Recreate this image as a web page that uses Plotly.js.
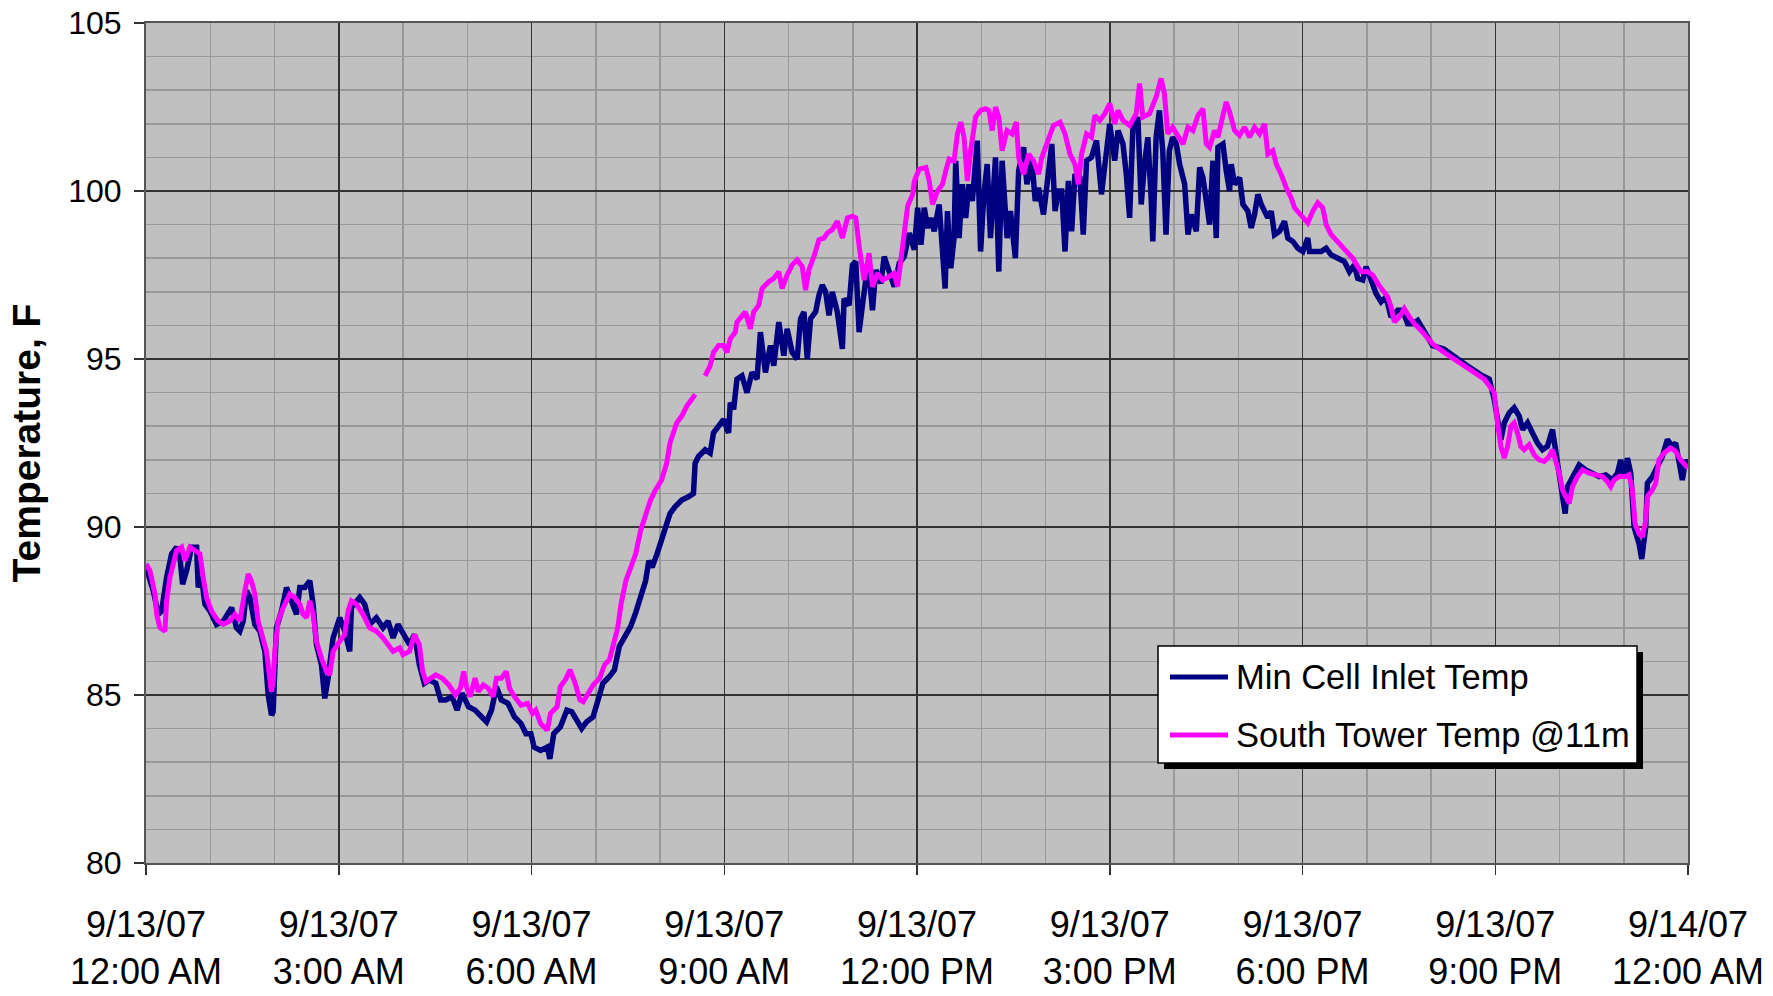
<!DOCTYPE html>
<html>
<head>
<meta charset="utf-8">
<script src="https://cdn.plot.ly/plotly-3.0.1.min.js"></script>
<style>html,body{margin:0;padding:0;background:#fff;}#chart{width:1773px;height:996px;}</style>
</head>
<body>
<div id="chart"></div>
<script>
// ---- data (hours after 9/13/07 12:00 AM) ----
const seriesNames = ['Min Cell Inlet Temp', 'South Tower Temp @11m'];
const seriesColors = ['#000080', '#FF00FF'];

const inletHours = [
0,0.114,0.192,0.244,0.321,0.399,0.477,0.528,0.57,0.632,0.71,0.788,0.813,0.865,0.917,0.995,1.098,1.202,1.332,1.409,
1.461,1.513,1.565,1.617,1.694,1.772,1.85,1.902,1.953,1.979,2.031,2.109,2.187,2.264,2.342,2.394,2.472,2.549,2.601,2.653,
2.731,2.782,2.834,2.912,3.016,3.093,3.171,3.197,3.326,3.404,3.482,3.585,3.689,3.767,3.845,3.922,
4.0,4.102,4.179,4.255,4.332,4.408,4.51,4.587,4.663,4.765,4.842,4.918,5.02,5.122,5.224,5.301,5.378,5.454,5.531,5.633,
5.735,5.837,5.913,5.99,6.041,6.143,6.245,6.286,6.347,6.449,6.551,6.628,6.704,6.781,6.857,6.959,7.036,7.112,7.214,7.291,
7.367,7.469,7.546,7.622,7.699,7.776,7.827,7.878,7.954,8.005,
8.156,8.234,8.339,8.443,8.521,8.547,8.599,8.703,8.781,8.833,8.911,8.99,9.068,9.094,9.146,9.198,9.276,9.354,9.432,9.51,
9.563,9.641,9.719,9.771,9.849,9.927,9.979,10.057,10.135,10.188,10.24,10.292,10.344,10.422,10.474,10.526,10.578,10.63,10.682,10.76,
10.839,10.865,10.943,10.995,11.047,11.099,11.151,11.203,11.255,11.307,11.359,11.438,11.49,11.568,11.646,11.724,11.802,11.88,11.958,
12.01,12.062,12.113,12.165,12.216,12.268,12.345,12.397,12.438,12.474,12.526,12.577,12.603,12.655,12.706,12.758,12.809,12.861,12.938,12.99,
13.041,13.093,13.144,13.222,13.273,13.325,13.402,13.454,13.531,13.582,13.66,13.711,13.789,13.84,13.892,13.969,14.046,14.098,14.149,14.201,
14.253,14.304,14.356,14.407,14.459,14.536,14.588,14.639,14.716,14.794,14.871,14.948,15.0,15.077,15.129,15.206,15.258,15.309,15.361,15.438,
15.49,15.541,15.593,15.644,15.67,15.722,15.773,15.825,15.876,15.928,15.979,
16.036,16.088,16.166,16.218,16.269,16.347,16.399,16.451,16.503,16.554,16.606,16.658,16.684,16.762,16.813,16.865,16.891,16.943,17.021,17.073,
17.15,17.202,17.254,17.306,17.358,17.409,17.461,17.513,17.565,17.642,17.72,17.772,17.85,17.927,18.005,18.083,18.109,18.187,18.29,18.368,
18.446,18.549,18.653,18.731,18.808,18.86,18.938,18.99,19.067,19.145,19.223,19.301,19.378,19.482,19.56,19.637,19.715,19.793,19.87,19.948,
20.026,20.2,20.4,20.6,20.8,
20.907,20.984,21.036,21.088,21.14,21.218,21.295,21.373,21.425,21.503,21.58,21.658,21.736,21.813,21.891,21.943,21.995,22.047,22.088,22.124,
22.202,22.306,22.409,22.513,22.617,22.72,22.824,22.902,22.953,23.005,23.057,23.109,23.161,23.238,23.28,23.342,23.368,23.446,23.523,23.601,
23.679,23.756,23.808,23.86,23.912,23.964,24.0
];
const inletTemp = [
88.8,88.1,87.4,87.5,88.5,89.2,89.4,89.1,88.3,88.7,89.4,89.4,88.2,88.5,87.7,87.5,87.1,87.2,87.6,87.0,
86.9,87.2,88.1,87.9,87.1,86.9,86.3,85.0,84.4,84.5,87.0,87.5,88.2,87.8,87.4,88.2,88.2,88.4,87.7,86.5,
85.9,84.9,85.5,86.7,87.3,86.9,86.3,87.6,87.9,87.7,87.1,87.3,87.0,87.2,86.7,87.1,
86.8,86.5,86.8,85.9,85.35,85.45,85.35,84.85,84.85,84.95,84.55,85.05,84.65,84.55,84.35,84.2,84.55,85.25,84.85,84.75,
84.35,84.15,83.85,83.85,83.45,83.35,83.45,83.1,83.85,84.05,84.55,84.5,84.25,84.0,84.2,84.35,84.85,85.35,85.55,85.75,
86.45,86.75,87.05,87.45,88.0,88.4,89.0,88.8,89.2,89.5,
90.4,90.6,90.8,90.9,91.0,91.9,92.1,92.3,92.2,92.8,93.0,93.2,92.8,93.7,93.5,94.4,94.5,94.0,94.6,94.4,
95.8,94.6,95.4,94.8,96.1,95.1,95.9,95.2,95.0,96.2,96.4,95.0,96.2,96.4,96.9,97.2,97.0,96.3,97.0,96.4,
95.3,96.8,96.6,97.8,97.9,95.8,96.6,97.35,97.55,96.45,97.65,97.25,98.05,97.55,97.15,97.85,98.05,98.75,98.25,
99.5,98.4,99.5,98.9,99.2,98.8,99.6,97.9,97.1,99.4,97.7,98.6,100.9,98.6,100.2,99.2,100.2,99.7,101.5,98.2,
99.9,100.8,98.6,101.0,97.6,100.9,98.6,99.4,98.0,100.6,101.3,100.2,100.9,99.7,100.1,99.3,100.7,101.4,99.4,100.0,
100.0,98.2,100.3,98.8,100.5,100.4,98.7,100.9,101.0,101.5,99.9,101.0,102.0,100.9,101.8,101.4,100.5,99.2,101.9,102.2,
99.6,100.8,101.6,99.8,98.5,101.6,102.4,101.2,98.7,101.2,101.6,
101.4,100.8,100.2,98.7,99.3,98.8,100.7,100.4,99.7,99.0,100.9,98.6,101.3,101.4,100.6,100.0,100.8,100.2,100.4,99.6,
99.4,98.9,99.3,99.9,99.6,99.4,99.2,99.4,98.7,98.8,99.1,98.6,98.5,98.3,98.2,98.6,98.2,98.2,98.2,98.3,
98.1,98.0,97.9,97.6,97.8,97.4,97.35,97.75,97.35,96.95,96.7,96.85,96.25,96.45,96.45,96.05,96.05,96.15,95.9,95.65,
95.4,95.3,95.0,94.75,94.5,
94.4,93.8,93.3,92.6,93.1,93.4,93.55,93.3,92.9,93.1,92.8,92.5,92.3,92.4,92.9,92.2,91.7,90.9,90.4,91.2,
91.5,91.85,91.7,91.6,91.5,91.55,91.4,91.6,92.0,91.5,92.05,91.6,90.0,89.5,89.05,90.0,91.3,91.5,91.8,92.1,
92.6,92.4,92.5,91.9,91.4,92.0,91.8
];

const towerHours = [
0,0.062,0.14,0.166,0.218,0.295,0.321,0.373,0.477,0.554,0.606,0.684,0.762,0.839,0.891,0.943,1.021,1.124,1.202,1.306,
1.383,1.461,1.539,1.591,1.642,1.694,1.746,1.824,1.876,1.927,1.953,1.979,2.005,2.057,2.135,2.238,2.316,2.394,2.446,2.497,
2.549,2.601,2.653,2.731,2.808,2.86,2.912,3.016,3.093,3.145,3.197,3.275,3.378,3.482,3.585,3.689,3.793,3.845,3.948,
4.0,4.102,4.179,4.255,4.306,4.357,4.434,4.51,4.612,4.714,4.816,4.893,4.944,4.995,5.046,5.122,5.173,5.25,5.327,5.403,
5.454,5.531,5.607,5.658,5.735,5.837,5.939,6.015,6.066,6.143,6.245,6.296,6.398,6.449,6.526,6.602,6.679,6.755,6.806,6.883,
6.959,7.061,7.138,7.214,7.265,7.342,7.393,7.469,7.546,7.622,7.699,7.776,7.852,7.929,
8.026,8.104,8.156,8.208,8.26,8.339,8.417,8.495,8.547,8.62,8.703,8.781,8.833,8.911,8.99,9.042,9.094,9.172,9.198,9.276,
9.328,9.406,9.458,9.536,9.589,9.693,9.771,9.849,9.901,9.979,10.057,10.135,10.214,10.266,10.318,10.396,10.474,10.552,10.604,10.682,
10.76,10.839,10.917,10.995,11.047,11.099,11.177,11.255,11.307,11.385,11.464,11.568,11.646,11.698,11.75,11.802,11.854,11.932,
11.959,12.036,12.139,12.191,12.242,12.32,12.397,12.448,12.5,12.577,12.629,12.68,12.732,12.784,12.835,12.912,12.99,13.067,13.119,13.17,
13.222,13.273,13.325,13.402,13.479,13.546,13.582,13.66,13.737,13.814,13.892,13.943,14.021,14.124,14.227,14.304,14.381,14.459,14.51,14.562,
14.639,14.716,14.768,14.845,14.923,15.0,15.077,15.129,15.206,15.309,15.412,15.464,15.515,15.619,15.722,15.799,15.851,15.902,15.979,
16.062,16.14,16.218,16.295,16.373,16.451,16.503,16.554,16.632,16.684,16.762,16.813,16.865,16.943,17.021,17.098,17.176,17.254,17.332,17.409,
17.461,17.539,17.591,17.668,17.746,17.824,17.876,17.979,18.083,18.161,18.238,18.316,18.368,18.446,18.549,18.679,18.782,18.86,18.912,19.016,
19.093,19.171,19.249,19.326,19.378,19.43,19.508,19.585,19.663,19.741,19.845,19.948,20.026,20.2,20.4,20.6,20.75,
20.829,20.907,20.984,21.036,21.088,21.14,21.192,21.244,21.295,21.347,21.399,21.451,21.528,21.606,21.684,21.762,21.839,21.891,21.943,21.995,
22.047,22.098,22.15,22.202,22.28,22.358,22.461,22.565,22.668,22.746,22.798,22.85,22.927,23.031,23.083,23.135,23.176,23.238,23.29,23.342,
23.368,23.446,23.497,23.549,23.627,23.731,23.808,23.886,23.964,24.0
];
const towerTemp = [
88.9,88.7,88.0,87.4,87.0,86.9,87.8,88.5,89.3,89.4,89.0,89.4,89.3,89.2,88.5,87.9,87.5,87.2,87.1,87.2,
87.4,87.2,88.1,88.6,88.4,88.0,87.2,86.7,86.3,85.5,85.1,85.4,86.3,87.2,87.6,88.0,87.9,87.7,87.4,87.3,
87.8,87.4,86.6,86.1,85.7,85.6,86.3,86.6,86.8,87.5,87.8,87.7,87.4,87.0,86.9,86.7,86.4,86.3,86.4,
86.2,86.3,86.8,86.5,85.7,85.4,85.5,85.6,85.5,85.3,85.0,85.2,85.7,85.2,84.95,85.5,85.1,85.3,85.2,84.95,
85.5,85.5,85.7,85.2,84.95,84.7,84.75,84.45,84.55,84.15,83.95,84.45,84.65,85.25,85.45,85.75,85.35,84.85,84.8,85.05,
85.3,85.5,85.9,86.05,86.45,87.0,87.7,88.4,88.8,89.2,89.9,90.4,90.8,91.1,
91.4,91.9,92.5,92.8,93.1,93.3,93.6,93.8,93.95,null,94.5,94.8,95.2,95.4,95.4,95.2,95.6,95.8,96.1,96.3,
96.4,95.9,96.4,96.6,97.1,97.3,97.4,97.6,97.1,97.5,97.8,97.95,97.75,97.05,97.65,98.05,98.55,98.6,98.75,98.85,
99.1,98.6,99.2,99.25,99.2,98.35,97.35,98.15,97.15,97.55,97.35,97.45,97.55,97.15,98.05,98.75,99.55,99.9,
100.3,100.65,100.7,100.3,99.6,100.0,100.2,100.6,100.95,100.9,101.7,102.05,101.6,100.3,101.2,102.2,102.4,102.45,102.4,101.8,
102.5,102.2,101.2,101.8,101.7,102.05,101.0,100.5,101.1,100.9,100.5,101.0,101.4,101.95,102.05,101.7,101.1,100.8,100.2,101.1,
101.7,101.6,102.25,102.1,102.3,102.6,102.0,102.4,102.1,101.95,102.3,103.2,102.2,102.3,102.8,103.35,102.9,101.7,101.9,
101.65,101.4,101.9,101.8,102.25,102.45,101.4,101.3,101.8,101.6,102.25,102.65,102.35,101.8,101.65,101.9,101.6,101.9,101.7,102.0,
101.1,101.2,100.8,100.5,100.1,99.8,99.5,99.3,99.05,99.4,99.65,99.5,99.0,98.7,98.5,98.2,98.0,97.75,97.6,97.6,
97.5,97.25,97.05,96.85,96.55,96.1,96.25,96.5,96.25,96.05,95.85,95.65,95.45,95.2,94.95,94.7,94.5,
94.4,94.2,94.0,93.1,92.4,92.05,92.4,93.0,93.1,92.8,92.4,92.3,92.45,92.15,92.0,91.95,92.1,92.3,92.0,91.6,
91.1,90.9,90.7,91.2,91.5,91.7,91.6,91.55,91.5,91.35,91.2,91.4,91.5,91.5,91.55,91.1,90.1,89.8,89.7,90.2,
90.9,91.1,91.3,92.0,92.2,92.35,92.25,92.0,91.8,91.75
];

const tickHours = [0, 3, 6, 9, 12, 15, 18, 21, 24];
const tickDates = ['9/13/07','9/13/07','9/13/07','9/13/07','9/13/07','9/13/07','9/13/07','9/13/07','9/14/07'];
const tickTimes = ['12:00 AM','3:00 AM','6:00 AM','9:00 AM','12:00 PM','3:00 PM','6:00 PM','9:00 PM','12:00 AM'];

// ---- build ----
const BASE = Date.UTC(2007, 8, 13);
function toDate(h) {
  const d = new Date(BASE + Math.round(h * 3600000));
  return d.toISOString().slice(0, 19).replace('T', ' ');
}

const SANS = '"Liberation Sans", Arial, sans-serif';

const traces = [
  { x: inletHours.map(toDate), y: inletTemp, name: seriesNames[0], type: 'scatter', mode: 'lines',
    line: { color: seriesColors[0], width: 5.5 }, connectgaps: false, showlegend: false },
  { x: towerHours.map(toDate), y: towerTemp, name: seriesNames[1], type: 'scatter', mode: 'lines',
    line: { color: seriesColors[1], width: 5 }, connectgaps: false, showlegend: false }
];

const L = 146, R = 85, T = 23, B = 133, W = 1773, H = 996;
const pw = W - L - R, ph = H - T - B;
function px2x(p) { return (p - L) / pw; }
function px2y(p) { return (H - B - p) / ph; }

// legend box (drawn as shapes + text, Excel style with drop shadow)
const LG = { x0: 1158, x1: 1637, y0: 646, y1: 763, rows: [677, 735], lx0: 1170, lx1: 1228, tx: 1234 };
const shapes = [
  { type: 'rect', xref: 'paper', yref: 'paper', layer: 'above',
    x0: px2x(LG.x0 + 6), x1: px2x(LG.x1 + 6), y0: px2y(LG.y1 + 6), y1: px2y(LG.y0 + 6),
    fillcolor: '#000000', line: { width: 0 } },
  { type: 'rect', xref: 'paper', yref: 'paper', layer: 'above',
    x0: px2x(LG.x0), x1: px2x(LG.x1), y0: px2y(LG.y1), y1: px2y(LG.y0),
    fillcolor: '#ffffff', line: { color: '#000000', width: 1.5 } }
];
const annotations = [];
seriesNames.forEach(function (name, i) {
  shapes.push({ type: 'line', xref: 'paper', yref: 'paper', layer: 'above',
    x0: px2x(LG.lx0), x1: px2x(LG.lx1), y0: px2y(LG.rows[i]), y1: px2y(LG.rows[i]),
    line: { color: seriesColors[i], width: 5 } });
  annotations.push({ xref: 'paper', yref: 'paper', x: px2x(LG.tx), y: px2y(LG.rows[i]),
    xanchor: 'left', yanchor: 'middle', showarrow: false, text: name,
    font: { family: SANS, size: 34.5, color: '#000' } });
});

const layout = {
  width: W, height: H,
  margin: { l: L, r: R, t: T, b: B, pad: 0 },
  paper_bgcolor: '#ffffff',
  plot_bgcolor: '#C0C0C0',
  showlegend: false,
  xaxis: {
    type: 'date',
    range: [toDate(0), toDate(24)],
    tickmode: 'array',
    tickvals: tickHours.map(toDate),
    ticktext: tickHours.map((h, i) => tickDates[i] + '<br>' + tickTimes[i]),
    tickfont: { family: SANS, size: 36, color: '#000' },
    ticks: 'outside', ticklen: 10, tickwidth: 1.5, tickcolor: '#333',
    ticklabelstandoff: 19,
    showgrid: true, gridcolor: '#333333', gridwidth: 1.5,
    minor: { dtick: 3600000, showgrid: true, gridcolor: '#999999', gridwidth: 1.5 },
    showline: true, linecolor: '#555555', linewidth: 2, mirror: true,
    zeroline: false, fixedrange: true
  },
  yaxis: {
    range: [80, 105],
    tickmode: 'linear', tick0: 80, dtick: 5,
    tickfont: { family: SANS, size: 32, color: '#000' },
    ticks: 'outside', ticklen: 10, tickwidth: 1.5, tickcolor: '#333',
    ticklabelstandoff: 6,
    showgrid: true, gridcolor: '#333333', gridwidth: 1.5,
    minor: { dtick: 1, showgrid: true, gridcolor: '#999999', gridwidth: 1.5 },
    showline: true, linecolor: '#555555', linewidth: 2, mirror: true,
    zeroline: false, fixedrange: true,
    title: { text: 'Temperature, F', font: { family: SANS, size: 39, color: '#000', weight: 'bold' }, standoff: 16 }
  },
  shapes: shapes,
  annotations: annotations
};

Plotly.newPlot('chart', traces, layout, { displayModeBar: false, staticPlot: true });
</script>
</body>
</html>
